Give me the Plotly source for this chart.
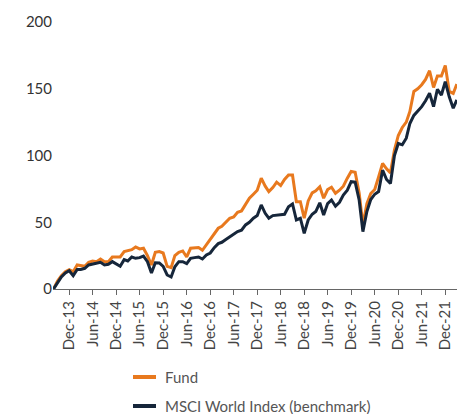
import plotly.graph_objects as go
import pandas as pd

months = pd.date_range("2013-08-01", "2022-03-01", freq="MS").strftime("%Y-%m-%d").tolist()

fund = [0, 6, 10, 13, 14.5, 13, 18, 17.5, 17, 20, 21, 20.5, 22.5, 20.5, 20.5, 24, 24, 24,
        28, 28.5, 29.5, 31.5, 30, 30.5, 25, 18, 27.5, 28, 27, 17, 16, 25, 27.5, 28.5, 24,
        30.5, 31, 31, 29, 33, 37, 41, 45.5, 47, 50, 53, 54, 57.5, 58.5, 63, 68, 71, 74,
        83, 77, 73, 76, 80, 77.5, 82, 85.4, 85.4, 65.4, 65.4, 53, 66, 72, 73.6, 76.6, 68,
        74.5, 76.2, 71.7, 74, 77, 83, 88, 87.5, 72, 48, 64, 71.5, 74.5, 84, 94, 90, 87,
        104, 115, 121, 125, 133, 148, 150, 153, 157, 163.5, 151, 159.5, 159.5, 167.5,
        148, 146.5, 153.5]

benchmark = [0, 5, 9, 12, 13.7, 10, 14.7, 14.7, 15.5, 18, 18.7, 19, 20, 18, 18.5, 20.5,
             19, 17, 22, 21, 24, 23, 23.5, 24.7, 20.5, 12, 19.7, 19.5, 17, 10.5, 9, 16.7,
             20.5, 20.5, 19, 23, 23.5, 24, 22.5, 25.5, 27, 31, 34, 35, 37, 39, 41, 43, 44,
             48, 50, 53, 55, 63, 56.7, 53, 55, 55.4, 55.5, 56, 61.6, 63.7, 51.7, 53, 41.7,
             51.7, 56, 58, 64.6, 55.4, 64, 66.7, 62, 65, 70.4, 74, 80.4, 80, 66.7, 43, 58,
             67, 71, 73, 89, 82, 79, 100, 109, 108, 113, 124, 130, 133, 136.6, 141, 146.6,
             136.6, 149.6, 145.3, 155.3, 144, 135.4, 141.6]

tick_dates = ["2013-12-01", "2014-06-01", "2014-12-01", "2015-06-01", "2015-12-01",
              "2016-06-01", "2016-12-01", "2017-06-01", "2017-12-01", "2018-06-01",
              "2018-12-01", "2019-06-01", "2019-12-01", "2020-06-01", "2020-12-01",
              "2021-06-01", "2021-12-01"]
tick_labels = ["Dec-13", "Jun-14", "Dec-14", "Jun-15", "Dec-15", "Jun-16", "Dec-16",
               "Jun-17", "Dec-17", "Jun-18", "Dec-18", "Jun-19", "Dec-19", "Jun-20",
               "Dec-20", "Jun-21", "Dec-21"]
y_ticks = [0, 50, 100, 150, 200]
series_names = ["Fund", "MSCI World Index (benchmark)"]

ORANGE = "#E8791E"
NAVY = "#16263A"
FONT = "Lato"
colors = [ORANGE, NAVY]

fig = go.Figure()
for name, vals, col in zip(series_names, [fund, benchmark], colors):
    fig.add_trace(go.Scatter(x=months, y=vals, mode="lines", name=name,
                             line=dict(color=col, width=3)))

# manual legend (below plot) in paper coordinates
leg_y = [-0.3296, -0.4382]
for name, col, yy in zip(series_names, colors, leg_y):
    fig.add_shape(type="line", xref="paper", yref="paper",
                  x0=0.1975, x1=0.2543, y0=yy, y1=yy,
                  line=dict(color=col, width=4))
    fig.add_annotation(xref="paper", yref="paper", x=0.2716, y=yy,
                       xanchor="left", yanchor="middle", text=name, showarrow=False,
                       font=dict(family=FONT, size=15, color="#555555"))

# page body has an 8px default margin, so the figure is sized to fill the rest
fig.update_layout(
    width=457, height=406,
    margin=dict(l=45, r=7, t=14, b=125),
    paper_bgcolor="white", plot_bgcolor="white",
    font=dict(family=FONT, size=15, color="#333333"),
    showlegend=False,
    xaxis=dict(type="date", range=["2013-07-28", "2022-03-10"], automargin=False,
               tickmode="array", tickvals=tick_dates, ticktext=tick_labels,
               tickangle=-90, ticks="outside", ticklen=5, tickcolor="#666666",
               showline=True, linecolor="#666666", linewidth=1,
               showgrid=False, zeroline=False,
               tickfont=dict(family=FONT, size=15, color="#444444")),
    yaxis=dict(range=[0, 200], tickmode="array", tickvals=y_ticks, automargin=False,
               showgrid=False, zeroline=False, showline=False, ticks="",
               tickfont=dict(family=FONT, size=15, color="#333333")),
)

fig.write_html("out.html")
